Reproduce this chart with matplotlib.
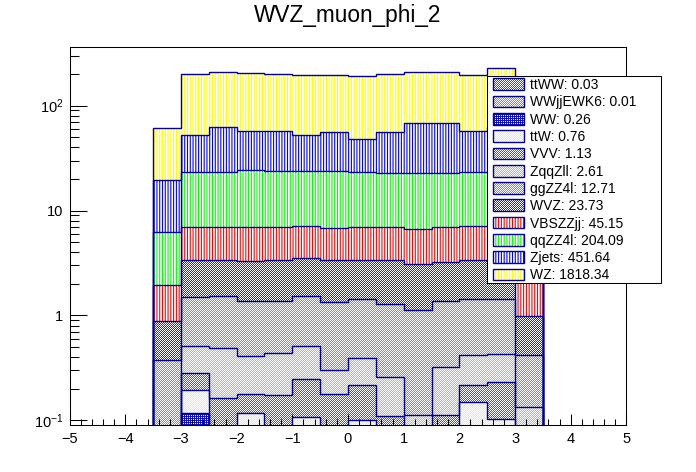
import matplotlib
matplotlib.use('Agg')
import matplotlib.pyplot as plt
import matplotlib.colors as mcolors
import numpy as np
from matplotlib.patches import Rectangle
from matplotlib.ticker import FixedLocator, FixedFormatter, MultipleLocator, LogLocator, NullFormatter

plt.rcParams['font.family'] = ['Liberation Sans', 'DejaVu Sans']
plt.rcParams['mathtext.fontset'] = 'custom'
plt.rcParams['mathtext.rm'] = 'Liberation Sans'
plt.rcParams['mathtext.it'] = 'Liberation Sans:italic'
plt.rcParams['mathtext.bf'] = 'Liberation Sans:bold'
plt.rcParams['hatch.linewidth'] = 0.8

# bin edges of muon phi
bin_edges = [-3.5, -3.0, -2.5, -2.0, -1.5, -1.0, -0.5, 0.0, 0.5, 1.0, 1.5, 2.0, 2.5, 3.0, 3.5]

# per-bin yields, stack order bottom -> top
ttWW = [0.001, 0.003, 0.002, 0.002, 0.003, 0.002, 0.002, 0.003, 0.002, 0.002, 0.003, 0.002, 0.002, 0.001]
WWjjEWK6 = [0.0005, 0.001, 0.001, 0.0008, 0.001, 0.0007, 0.001, 0.0008, 0.0007, 0.001, 0.0008, 0.0006, 0.0008, 0.0003]
WW = [0.005, 0.113, 0.02, 0.01, 0.015, 0.01, 0.02, 0.012, 0.01, 0.005, 0.012, 0.008, 0.01, 0.003]
ttW = [0.02, 0.077, 0.03, 0.104, 0.03, 0.094, 0.03, 0.084, 0.02, 0.02, 0.02, 0.138, 0.089, 0.01]
VVV = [0.024, 0.087, 0.109, 0.06, 0.125, 0.139, 0.124, 0.116, 0.077, 0.012, 0.076, 0.067, 0.129, 0.016]
ZqqZll = [0.02, 0.234, 0.324, 0.237, 0.262, 0.269, 0.125, 0.175, 0.151, 0.072, 0.209, 0.202, 0.196, 0.104]
ggZZ4l = [0.305, 0.975, 1.034, 0.966, 0.944, 1.025, 1.048, 1.039, 1.029, 1.008, 1.039, 1.012, 1.003, 0.284]
WVZ = [0.515, 1.89, 1.86, 1.92, 2.0, 1.97, 2.0, 1.92, 2.06, 1.95, 1.84, 1.92, 1.87, 0.577]
VBSZZjj = [1.06, 3.55, 3.55, 3.63, 3.55, 3.62, 3.45, 3.58, 3.58, 3.53, 3.73, 3.78, 3.7, 1.1]
qqZZ4l = [4.25, 16.27, 16.27, 17.27, 16.97, 16.57, 17.1, 16.27, 15.77, 16.1, 15.77, 16.07, 16.0, 4.4]
Zjets = [13.4, 29.0, 39.0, 33.2, 33.5, 28.5, 32.1, 24.7, 33.8, 45.2, 45.2, 34.2, 40.0, 17.0]
WZ = [41.4, 146.8, 145.8, 146.6, 141.6, 143.8, 142.0, 145.1, 145.5, 143.1, 143.1, 139.6, 165.0, 29.0]

names = ['ttWW', 'WWjjEWK6', 'WW', 'ttW', 'VVV', 'ZqqZll', 'ggZZ4l', 'WVZ', 'VBSZZjj', 'qqZZ4l', 'Zjets', 'WZ']
totals = ['0.03', '0.01', '0.26', '0.76', '1.13', '2.61', '12.71', '23.73', '45.15', '204.09', '451.64', '1818.34']
series = [ttWW, WWjjEWK6, WW, ttW, VVV, ZqqZll, ggZZ4l, WVZ, VBSZZjj, qqZZ4l, Zjets, WZ]

# fill style: 'check' / 'dense' = pixel dither like ROOT 300x, 'lines' = vertical hatch
styles = [('check', '#ff1010'), ('check', '#10e010'), ('dense', '#1010c8'), ('check', '#ffff00'),
          ('check', '#e800e8'), ('check', '#00ffff'), ('check', '#50b450'), ('check', '#2c2cb0'),
          ('lines', '#ff0000'), ('lines', '#00ff00'), ('lines', '#0000ff'), ('lines', '#ffff00')]
line_col = '#000099'
hatch = '||||||'

W_PX, H_PX = 696, 472
fig = plt.figure(figsize=(W_PX / 100, H_PX / 100), dpi=100)
ax = fig.add_axes([0.1, 0.1, 0.8, 0.8])
ax.set_facecolor('none')

ii, jj = np.indices((H_PX, W_PX))
masks = {'check': (ii + jj) % 2 == 1,
         'dense': ~((ii % 2 == 1) & (jj % 2 == 1))}


def dither(color, kind):
    arr = np.ones((H_PX, W_PX, 3))
    arr[masks[kind]] = mcolors.to_rgb(color)
    return arr


edges = np.array(bin_edges)
left = edges[:-1]
width = np.diff(edges)
base = np.full(len(left), 1e-4)
for vals, (kind, col) in zip(series, styles):
    vals = np.array(vals)
    top = base + vals
    if kind == 'lines':
        ax.bar(left, vals, width=width, bottom=base, align='edge', facecolor='white',
               edgecolor=col, hatch=hatch, linewidth=0, zorder=1)
    else:
        region = ax.stairs(top, edges, baseline=base, fill=True, facecolor='none',
                           edgecolor='none', lw=0, zorder=1)
        im = fig.figimage(dither(col, kind), origin='upper', zorder=-1)
        im.set_clip_path(region)
        im.set_clip_box(ax.bbox)
    ax.stairs(top, edges, baseline=1e-4, color=line_col, lw=1.0, zorder=3)
    base = top

ax.set_xlim(-5, 5)
ax.set_yscale('log')
ax.set_ylim(0.0906, 361)

ax.xaxis.set_major_locator(MultipleLocator(1))
ax.xaxis.set_minor_locator(MultipleLocator(0.2))
ax.yaxis.set_major_locator(FixedLocator([0.1, 1, 10, 100]))
ax.yaxis.set_major_formatter(FixedFormatter([r'$\mathregular{10^{-1}}$', '1', '10', r'$\mathregular{10^{2}}$']))
ax.yaxis.set_minor_locator(LogLocator(base=10, subs=[2, 3, 4, 5, 6, 7, 8, 9], numticks=20))
ax.yaxis.set_minor_formatter(NullFormatter())

ax.tick_params(which='both', direction='in', top=False, right=False, width=0.75, colors='black')
ax.tick_params(axis='x', which='major', length=7.9, pad=5, labelsize=10.5)
ax.tick_params(axis='x', which='minor', length=4)
ax.tick_params(axis='y', which='major', length=12.2, pad=4.5, labelsize=10.5)
ax.tick_params(axis='y', which='minor', length=6.5)
for sp in ax.spines.values():
    sp.set_linewidth(0.75)

fig.text(0.5, 1 - 21.7 / 472, 'WVZ_muon_phi_2', ha='center', va='baseline', fontsize=16.3)

# legend box, drawn by hand in ROOT style
lx0, lx1, ly0, ly1 = 0.70, 0.95, 0.40, 0.84
fig.add_artist(Rectangle((lx0, ly0), lx1 - lx0, ly1 - ly0, transform=fig.transFigure,
                         facecolor='white', edgecolor='black', lw=0.75, zorder=5))
rowh = (ly1 - ly0) / len(names)
bx0, bx1 = 0.7079, 0.7533
bh = 11.7 / 472
for i, (nm, tot, (kind, col)) in enumerate(zip(names, totals, styles)):
    yc = ly1 - (i + 0.5) * rowh
    if kind == 'lines':
        fig.add_artist(Rectangle((bx0, yc - bh / 2), bx1 - bx0, bh, transform=fig.transFigure,
                                 facecolor='white', edgecolor=col, hatch=hatch, lw=0, zorder=6))
    else:
        box = Rectangle((bx0, yc - bh / 2), bx1 - bx0, bh, transform=fig.transFigure,
                        facecolor='none', lw=0)
        im = fig.figimage(dither(col, kind), origin='upper', zorder=6)
        im.set_clip_path(box)
    fig.add_artist(Rectangle((bx0, yc - bh / 2), bx1 - bx0, bh, transform=fig.transFigure,
                             facecolor='none', edgecolor=line_col, lw=1.0, zorder=7))
    fig.text(0.7615, yc - 4.9 / 472, nm + ': ' + tot, ha='left', va='baseline',
             fontsize=10, zorder=8)

fig.savefig('out.png', dpi=100)
